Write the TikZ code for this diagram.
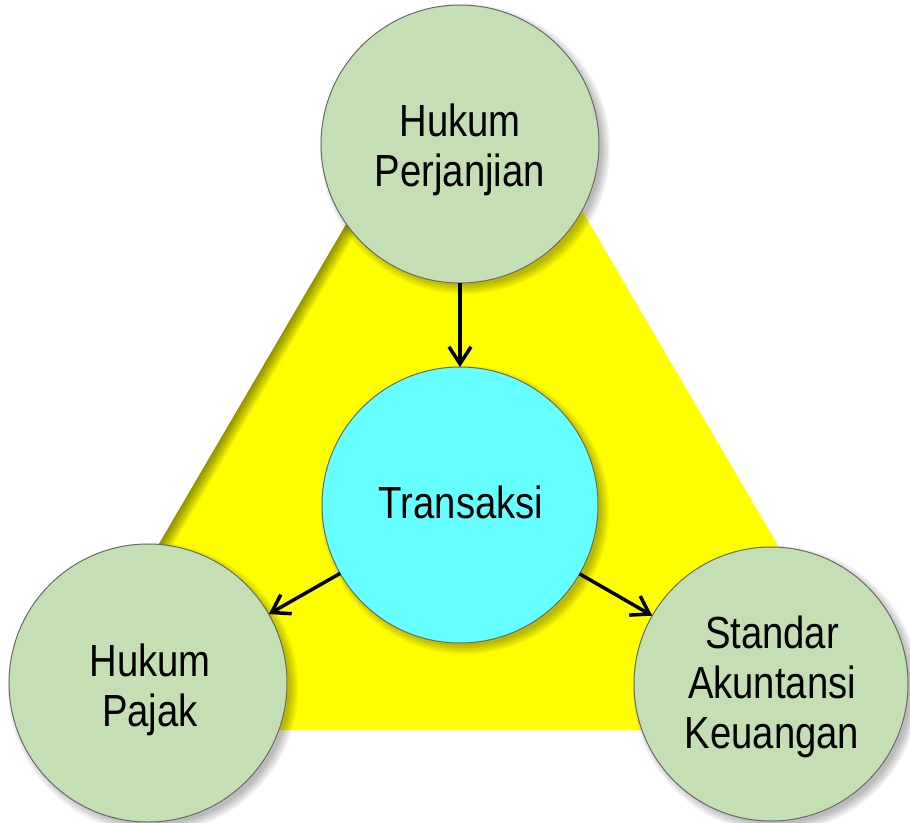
\documentclass[tikz,border=0pt]{standalone}
\usepackage{fontspec}
\setmainfont{Liberation Sans}[FakeStretch=0.85]
\usetikzlibrary{arrows.meta,calc}
\definecolor{circgreen}{RGB}{196,223,180}
\definecolor{circcyan}{RGB}{102,255,255}
\definecolor{triyellow}{RGB}{255,255,0}
\definecolor{rimgray}{RGB}{105,105,105}
\tikzset{
  bubble/.style={circle, draw=rimgray, line width=1pt, inner sep=0pt, outer sep=0pt},
  greenbubble/.style={bubble, fill=circgreen},
  cyanbubble/.style={bubble, fill=circcyan},
  lbl/.style={inner sep=0pt, align=center, font=\fontsize{45}{50}\selectfont},
  arr/.style={line width=3.5pt, -{Straight Barb[length=17pt,width=22pt]}},
}
\newcommand{\softshadow}[3]{%
  \foreach \dd in {-2,0,2,4,6}{
    \fill[black, opacity=0.06] ($(#1,#2)+(5,5)$) circle[radius=#3pt+\dd pt];
  }}
\begin{document}
\begin{tikzpicture}[x=1pt,y=-1pt]
\useasboundingbox (0,0) rectangle (910,822);
% triangle
\coordinate (apex) at (468,16);
\coordinate (bl) at (50,730);
\coordinate (br) at (886,730);
\fill[triyellow] (apex) -- (bl) -- (br) -- cycle;
\begin{scope}
  \clip (apex) -- (bl) -- (br) -- cycle;
  \foreach \w in {26,24,...,2}{
    \draw[black, opacity=0.04, line width=\w pt] (apex) -- (bl);
  }
\end{scope}
% shadows of circles
\softshadow{460}{144}{139}
\softshadow{460}{505}{138}
\softshadow{148}{683}{139}
\softshadow{771}{684}{137}
% circles
\node[greenbubble, minimum size=278pt] (top) at (460,144) {};
\node[cyanbubble, minimum size=276pt] (ctr) at (460,505) {};
\node[greenbubble, minimum size=278pt] (lft) at (148,683) {};
\node[greenbubble, minimum size=274pt] (rgt) at (771,684) {};
% arrows
\draw[arr] (top) -- (ctr);
\draw[arr] (ctr) -- (lft);
\draw[arr] (ctr) -- (rgt);
% labels
\node[lbl] (ttop) at (460,149.5) {Hukum\\Perjanjian};
\node[lbl] (tctr) at (461,502) {Transaksi};
\node[lbl] (tlft) at (150,690) {Hukum\\Pajak};
\node[lbl] (trgt) at (772,687) {Standar\\Akuntansi\\Keuangan};
\end{tikzpicture}
\end{document}
